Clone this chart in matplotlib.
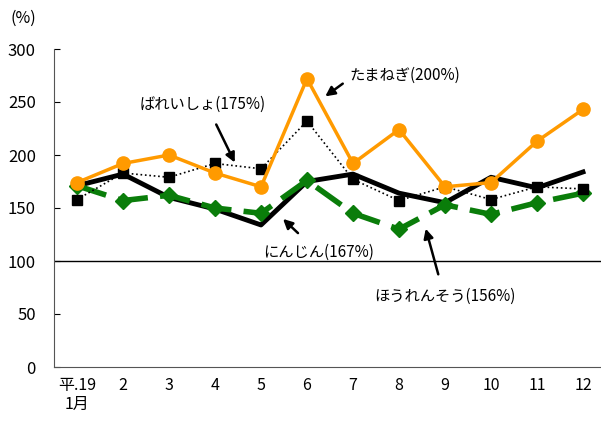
import numpy as np
import matplotlib.pyplot as plt

plt.rcParams['font.family'] = ['Noto Sans CJK JP', 'DejaVu Sans']

months = ['平.19\n1月', '2', '3', '4', '5', '6', '7', '8', '9', '10', '11', '12']
tamanegi = [174, 192, 200, 183, 170, 272, 192, 224, 170, 174, 213, 243]
bareisho = [158, 183, 179, 192, 187, 232, 177, 157, 170, 158, 170, 168]
ninjin = [171, 182, 160, 149, 134, 175, 182, 164, 155, 179, 169, 184]
hourensou = [171, 157, 162, 150, 145, 176, 145, 130, 153, 144, 155, 164]

x = np.arange(len(months))

fig = plt.figure(figsize=(6.01, 4.21), dpi=100)
ax = fig.add_axes([54/601, 54/421, 552/601, 318/421])

ax.axhline(100, color='black', lw=1.0, zorder=1)

ax.plot(x, ninjin, color='black', lw=3.5, zorder=2)
ax.plot(x, hourensou, color='#0a7d0a', lw=4, dashes=(5.5, 2.2),
        marker='D', markersize=8, zorder=3)
ax.plot(x, bareisho, color='black', lw=1.2, ls=':',
        marker='s', markersize=6.5, zorder=4)
ax.plot(x, tamanegi, color='#ff9a00', lw=2.5,
        marker='o', markersize=9.5, zorder=5)

ax.set_xlim(-0.5, 11.5)
ax.set_ylim(0, 300)
ax.set_yticks(range(0, 301, 50))
ax.set_xticks(x)
ax.set_xticklabels(months)
ax.tick_params(axis='y', direction='in', length=4, labelsize=12, pad=13)
ax.tick_params(axis='x', length=0, labelsize=11.5, pad=7)
for s in ['top', 'right']:
    ax.spines[s].set_visible(False)
ax.spines['left'].set_color('#555555')
ax.spines['bottom'].set_color('#555555')

fig.text(10/601, 1 - 18/421, '(%)', fontsize=11.5, va='center', ha='left')

arrow = dict(arrowstyle='-|>', color='black', lw=1.8, mutation_scale=14)

def note(txt, xy_text, xy_tail, xy_head):
    # positions in pixel coordinates of the figure, top-left origin
    fig.text(xy_text[0]/601, 1 - xy_text[1]/421, txt, fontsize=11,
             va='center', ha='left')
    ax.annotate('', xy=(xy_head[0]/601, 1 - xy_head[1]/421),
                xytext=(xy_tail[0]/601, 1 - xy_tail[1]/421),
                xycoords='figure fraction', textcoords='figure fraction',
                arrowprops=arrow)

note('たまねぎ(200%)', (349, 75), (345, 82), (323, 98))
note('ばれいしょ(175%)', (140, 104), (215, 122), (236, 165))
note('にんじん(167%)', (263, 252), (300, 235), (281, 217))
note('ほうれんそう(156%)', (374, 296), (439, 277), (425, 226))

fig.savefig('out.png', dpi=100)
